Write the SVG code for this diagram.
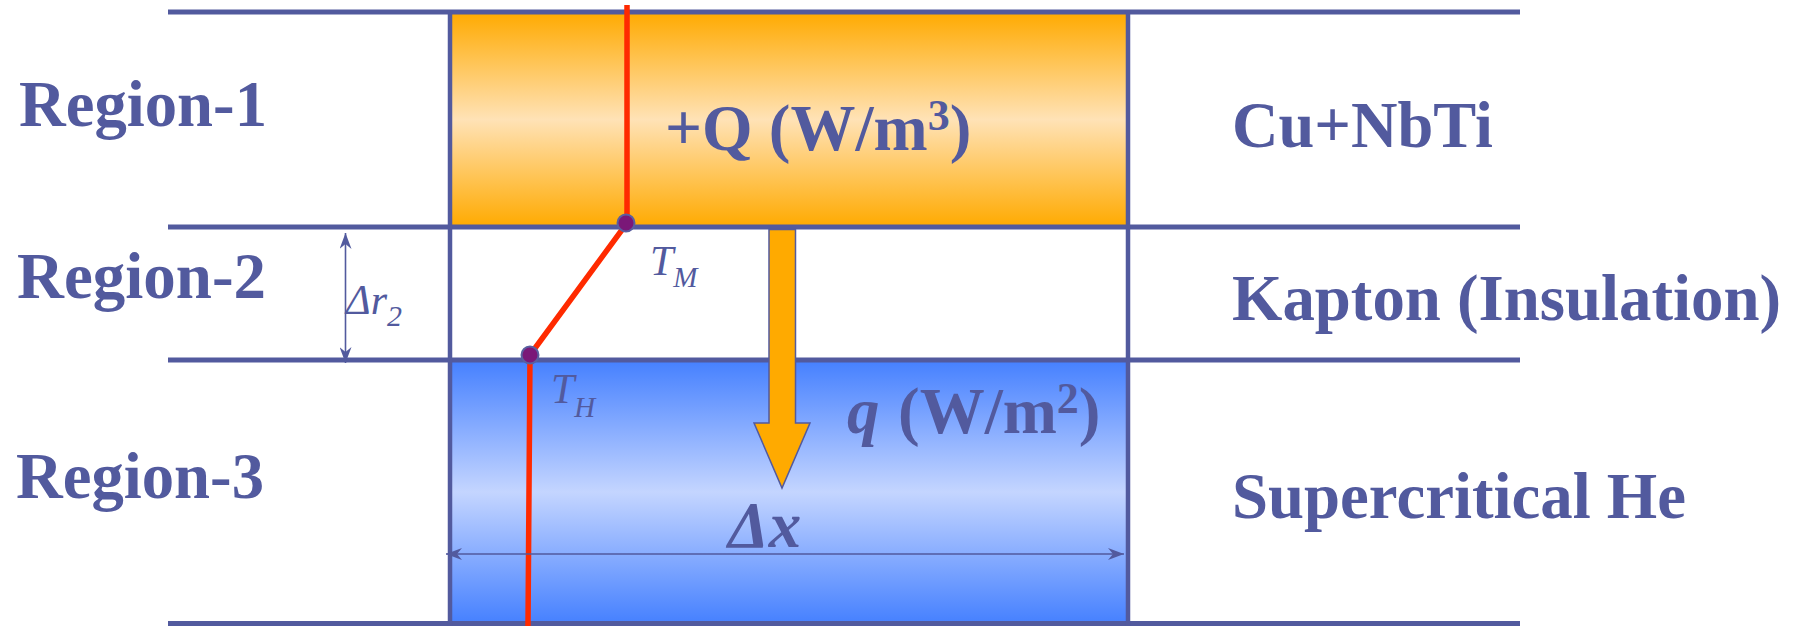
<svg xmlns="http://www.w3.org/2000/svg" width="1811" height="626" viewBox="0 0 1811 626">
<style>
.ln{stroke:#525A9E;stroke-width:5;fill:none}
.bd{stroke:#525A9E;stroke-width:4.5;fill:none}
.lbl{font-family:"Liberation Serif","Times New Roman",serif;font-weight:bold;font-size:65px;fill:#525A9E}
.it{font-family:"Liberation Serif","Times New Roman",serif;font-style:italic;fill:#525A9E}
.red{stroke:#FF2A00;stroke-width:5.5;fill:none;stroke-linejoin:round}
.dot{fill:#7A1878;stroke:#5A5FA0;stroke-width:2}
.dim{stroke:#525A9E;stroke-width:1.6;fill:none}
</style>
<defs>
<linearGradient id="gO" x1="0" y1="0" x2="0" y2="1">
<stop offset="0" stop-color="#FFAA00"/>
<stop offset="0.5" stop-color="#FFE2B6"/>
<stop offset="1" stop-color="#FFAA00"/>
</linearGradient>
<linearGradient id="gB" x1="0" y1="0" x2="0" y2="1">
<stop offset="0" stop-color="#4580FF"/>
<stop offset="0.5" stop-color="#C4D5FF"/>
<stop offset="1" stop-color="#4580FF"/>
</linearGradient>
<marker id="st" viewBox="0 0 16 12" refX="16" refY="6" markerWidth="16" markerHeight="12" markerUnits="userSpaceOnUse" orient="auto-start-reverse">
<path d="M0,0 L16,6 L0,12 L5,6 Z" fill="#525A9E"/>
</marker>
</defs>

<g id="region1">
<rect x="450" y="12" width="678" height="215" fill="url(#gO)"/>
<text class="lbl" x="19" y="126" textLength="248" lengthAdjust="spacingAndGlyphs">Region-1</text>
<text class="lbl" x="665" y="150">+Q (W/m<tspan font-size="44" dy="-20">3</tspan><tspan dy="20">)</tspan></text>
<text class="lbl" x="1232" y="147" textLength="261" lengthAdjust="spacingAndGlyphs">Cu+NbTi</text>
</g>

<g id="region2">
<text class="lbl" x="17" y="298" textLength="249" lengthAdjust="spacingAndGlyphs">Region-2</text>
<text class="lbl" x="1232" y="320" textLength="549" lengthAdjust="spacingAndGlyphs">Kapton (Insulation)</text>
</g>

<g id="region3">
<rect x="450" y="360" width="678" height="264" fill="url(#gB)"/>
<text class="lbl" x="16" y="498" textLength="248" lengthAdjust="spacingAndGlyphs">Region-3</text>
<text class="lbl" x="1232" y="518" textLength="454" lengthAdjust="spacingAndGlyphs">Supercritical He</text>
<text class="lbl" x="847" y="433" font-style="italic">q</text>
<text class="lbl" x="898" y="433">(W/m<tspan font-size="44" dy="-20">2</tspan><tspan dy="20">)</tspan></text>
<text class="lbl" x="728" y="547" font-style="italic">Δx</text>
</g>

<g id="grid">
<line class="ln" x1="168" y1="12" x2="1520" y2="12"/>
<line class="ln" x1="168" y1="227" x2="1520" y2="227"/>
<line class="ln" x1="168" y1="360" x2="1520" y2="360"/>
<line class="ln" x1="168" y1="623.5" x2="1520" y2="623.5"/>
<line class="bd" x1="450" y1="10" x2="450" y2="626"/>
<line class="bd" x1="1128" y1="10" x2="1128" y2="626"/>
</g>

<g id="heat-arrow">
<path d="M769,229.5 L795.5,229.5 L795.5,423 L810,423 L782,488 L754,423 L769,423 Z" fill="#FFAA00" stroke="#525A9E" stroke-width="1.5"/>
</g>

<g id="connectors">
<polyline class="red" points="627,5 627,223 530,355 528,626"/>
<line class="dim" x1="345.5" y1="233" x2="345.5" y2="363" marker-start="url(#st)" marker-end="url(#st)"/>
<line class="dim" x1="446" y1="554" x2="1124" y2="554" marker-start="url(#st)" marker-end="url(#st)"/>
</g>

<g id="node-TM">
<circle class="dot" cx="626" cy="223" r="8.5"/>
<text class="it" x="650" y="275" font-size="42">T<tspan font-size="29" dy="12">M</tspan></text>
</g>

<g id="node-TH">
<circle class="dot" cx="530" cy="355" r="8.5"/>
<text class="it" x="551" y="403" font-size="42">T<tspan font-size="29" dy="14">H</tspan></text>
</g>

<g id="dr2">
<text class="it" x="346" y="314" font-size="42">Δr<tspan font-size="30" dy="12">2</tspan></text>
</g>
</svg>
